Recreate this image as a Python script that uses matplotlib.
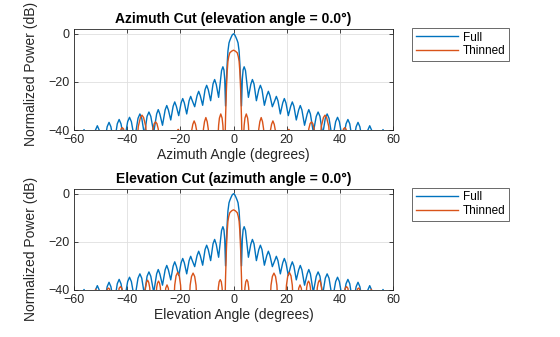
import numpy as np
import matplotlib
matplotlib.use("Agg")
import matplotlib.pyplot as plt

plt.rcParams["font.family"] = ["Liberation Sans", "DejaVu Sans"]

# one side of each pattern (angle in degrees, power in dB); cuts are symmetric about 0
full_ang = [0, 0.5, 1.0, 1.4, 1.7, 2.1, 2.4, 2.7, 3.0, 3.3, 3.6, 4.0, 4.5,
            5.6, 6.5, 7.1, 7.7, 8.6, 9.5, 10.1, 10.7, 11.6, 12.5, 13.1, 13.7,
            14.6, 15.5, 16.1, 16.7, 17.6, 18.5, 19.1, 19.7, 20.6, 21.5, 22.1, 22.7,
            23.6, 24.5, 25.1, 25.7, 26.7, 27.7, 28.3, 28.9, 30.0, 31.1, 31.8, 32.5,
            33.5, 34.5, 35.2, 35.9, 37.2, 38.4, 39.1, 39.8, 41.1, 42.3, 43.0, 43.7,
            44.9, 46.1, 46.8, 47.5, 49.0, 50.5, 51.2, 51.9, 53.7, 55.5, 56.2, 56.9,
            58.2, 60]
full_db = [0, -0.5, -1.7, -2.8, -3.8, -7.2, -12.8, -19.7, -30, -19, -15, -13.7, -15.3,
           -26.4, -21, -19.0, -20.8, -27.8, -23.2, -21.4, -23.2, -29.7, -25.7, -23.9, -25.7,
           -30.3, -27.8, -26.0, -27.8, -33.3, -28.7, -26.9, -28.7, -34.0, -30.1, -28.3, -30.1,
           -35.8, -31.6, -29.8, -31.6, -38.0, -33.3, -31.5, -33.3, -41, -34.3, -32.5, -34.3,
           -42, -35.1, -33.3, -35.1, -44, -36.5, -34.7, -36.5, -45, -37.4, -35.6, -37.4,
           -46, -38.6, -36.8, -38.6, -48, -40.0, -38.2, -40.0, -50, -41.6, -39.8, -41.6,
           -52, -55]

thin_az_ang = [0, 0.7, 1.4, 1.8, 2.1, 2.4, 2.7, 3.0, 3.3,
               3.5, 4.0, 4.3, 4.8, 5.3, 5.6, 6.1,
               9.0, 9.5, 9.9, 10.4, 10.9, 11.3, 11.8,
               13.4, 13.9, 14.3, 14.8, 15.3, 15.7, 16.2,
               19.8, 20.3, 20.8, 21.3, 21.8,
               27.7, 28.3, 28.8, 29.3, 29.8, 30.3, 30.9,
               32.3, 33.0, 33.8, 34.4, 35.0, 35.8, 36.5,
               40.6, 41.3, 41.8, 42.3, 43.0, 60]
thin_az_db = [-6.8, -7.2, -7.9, -9.5, -11.4, -16, -23.9, -35, -50,
              -48, -38, -35, -33.3, -35, -38, -48,
              -48, -39.5, -36.5, -34.8, -36.5, -39.5, -48,
              -48, -40, -37.6, -36.2, -37.6, -40, -48,
              -46, -40.5, -39.7, -40.5, -46,
              -48, -39.5, -37.3, -36.6, -37.3, -39.5, -48,
              -48, -38.5, -34.8, -33.8, -34.8, -38.5, -48,
              -46, -39.6, -39.0, -39.6, -46, -60]

thin_el_ang = [0, 0.7, 1.4, 1.8, 2.1, 2.4, 2.7, 3.0, 3.3,
               3.8, 4.3, 4.6, 5.0, 5.4, 5.7, 6.2,
               13.6, 14.1, 14.6, 15.2, 15.8, 16.3, 16.8,
               19.4, 19.9, 20.4, 21.0, 21.6, 22.1, 22.6,
               24.0, 24.5, 25.0, 25.5, 26.0,
               27.0, 27.5, 27.8, 28.2, 28.6, 28.9, 29.4,
               31.0, 31.5, 31.9, 32.3, 32.7, 33.1, 33.6,
               41.3, 42.0, 42.5, 43.0, 43.7,
               46.0, 46.6, 47.0, 47.4, 48.0,
               51.0, 51.8, 52.6, 60]
thin_el_db = [-6.7, -7.1, -7.9, -9.5, -11.4, -16, -23.9, -35, -50,
              -48, -39, -36.6, -35.7, -36.6, -39, -48,
              -48, -38, -34.4, -33.0, -34.4, -38, -48,
              -48, -38, -34.1, -32.7, -34.1, -38, -48,
              -47, -39.3, -37.9, -39.3, -47,
              -48, -39, -37.2, -36.3, -37.2, -39, -48,
              -48, -39, -36.8, -35.9, -36.8, -39, -48,
              -46, -39.3, -38.6, -39.3, -46,
              -45, -39.6, -39.2, -39.6, -45,
              -44, -39.7, -44, -60]


def both_sides(ang, db):
    ang = np.asarray(ang, dtype=float)
    db = np.asarray(db, dtype=float)
    return np.concatenate([-ang[:0:-1], ang]), np.concatenate([db[:0:-1], db])


BLUE = "#0072BD"
ORANGE = "#D95319"
DARK = "#262626"

fig = plt.figure(figsize=(5.6, 3.37), dpi=100)
ax1 = fig.add_axes([0.132, 0.614, 0.570, 0.300])
ax2 = fig.add_axes([0.132, 0.1395, 0.570, 0.300])

cuts = [
    (ax1, thin_az_ang, thin_az_db, "Azimuth Cut (elevation angle = 0.0\u00b0)",
     "Azimuth Angle (degrees)", 0.56),
    (ax2, thin_el_ang, thin_el_db, "Elevation Cut (azimuth angle = 0.0\u00b0)",
     "Elevation Angle (degrees)", 0.41),
]

for ax, t_ang, t_db, title, xlabel, ylab_pos in cuts:
    x, y = both_sides(full_ang, full_db)
    ax.plot(x, y, color=BLUE, lw=1.0, label="Full")
    x, y = both_sides(t_ang, t_db)
    ax.plot(x, y, color=ORANGE, lw=1.0, label="Thinned")

    ax.set_xlim(-60, 60)
    ax.set_ylim(-40, 2)
    ax.set_xticks(np.arange(-60, 61, 20))
    ax.set_yticks([-40, -20, 0])
    ax.grid(True, color="#dfdfdf", lw=0.6)
    ax.set_axisbelow(True)
    ax.tick_params(direction="in", length=3, width=0.6, top=True, right=True,
                   labelsize=9, colors=DARK, pad=3)
    for s in ax.spines.values():
        s.set_color(DARK)
        s.set_linewidth(0.6)
    ax.set_title(title, fontsize=10, fontweight="bold", color="black", pad=4)
    ax.set_xlabel(xlabel, fontsize=10, color=DARK, labelpad=1)
    ax.set_ylabel("Normalized Power (dB)", fontsize=10, color=DARK)
    ax.yaxis.set_label_coords(-0.112, ylab_pos)
    leg = ax.legend(loc="upper left", bbox_to_anchor=(1.06, 1.01), fontsize=8.5,
                    frameon=True, fancybox=False, handlelength=3.6, borderpad=0.3,
                    labelspacing=0.15, handletextpad=0.4, borderaxespad=0)
    leg.get_frame().set_edgecolor(DARK)
    leg.get_frame().set_linewidth(0.6)

fig.savefig("out.png", dpi=100)
